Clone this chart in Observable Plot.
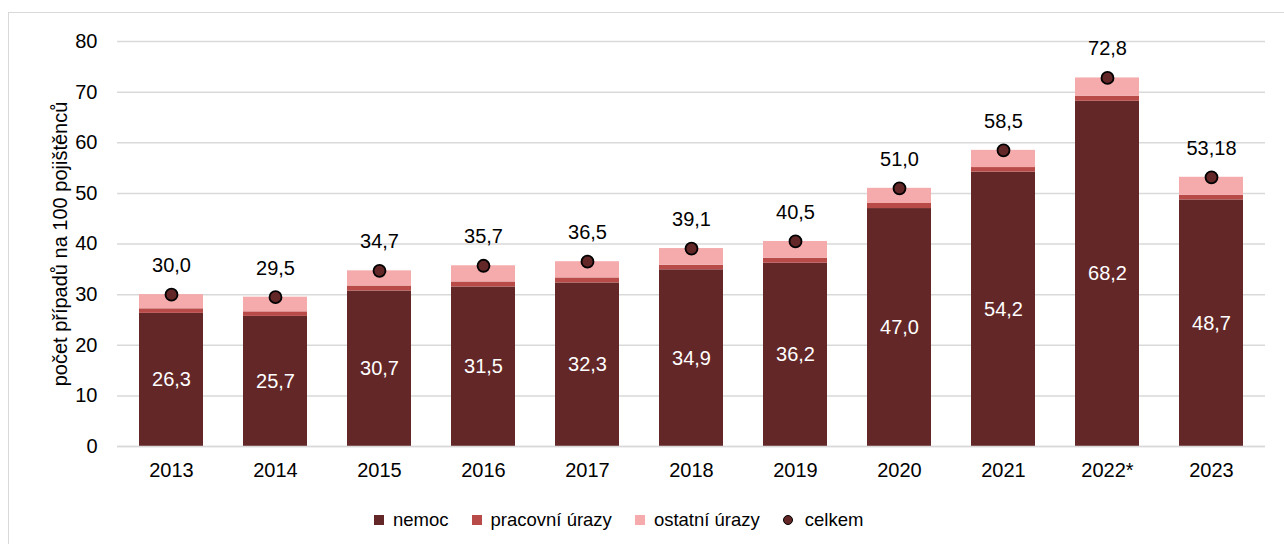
<!DOCTYPE html>
<html>
<head>
<meta charset="utf-8">
<script src="https://cdn.jsdelivr.net/npm/d3@7"></script>
<script src="https://cdn.jsdelivr.net/npm/@observablehq/plot@0.6"></script>
<style>
  body { margin: 0; background: #fff; font-family: "Liberation Sans", Arial, sans-serif; }
  #frame { position: absolute; left: 8px; top: 12px; width: 1300px; height: 560px; border: 1px solid #d9d9d9; box-sizing: border-box; }
  #chart { position: absolute; left: 0; top: 0; }
  #legend { position: absolute; left: 374px; top: 508px; height: 24px; display: flex; align-items: center; font-size: 18.5px; color: #000; white-space: nowrap; }
  .item { display: flex; align-items: center; margin-right: 23px; }
  .sw { width: 10px; height: 10px; margin-right: 9px; }
  .dot { width: 8px; height: 8px; border-radius: 50%; border: 1.5px solid #000; margin-right: 12px; }
</style>
</head>
<body>
<div id="frame"></div>
<div id="chart"></div>
<div id="legend"></div>
<script>
const years = ["2013", "2014", "2015", "2016", "2017", "2018", "2019", "2020", "2021", "2022*", "2023"];
const nemoc = [26.3, 25.7, 30.7, 31.5, 32.3, 34.9, 36.2, 47.0, 54.2, 68.2, 48.7];
const pracovniUrazy = [0.9, 0.9, 1.0, 1.0, 1.0, 0.9, 1.0, 1.0, 0.9, 1.0, 0.9];
const ostatniUrazy = [2.8, 2.9, 3.0, 3.2, 3.2, 3.3, 3.3, 3.0, 3.4, 3.6, 3.58];
const celkem = [30.0, 29.5, 34.7, 35.7, 36.5, 39.1, 40.5, 51.0, 58.5, 72.8, 53.18];
const yTicks = [0, 10, 20, 30, 40, 50, 60, 70, 80];
const seriesNames = ["nemoc", "pracovní úrazy", "ostatní úrazy"];
const seriesColors = ["#632728", "#b84a48", "#f5aaab"];
const dotName = "celkem";
const yLabel = "počet případů na 100 pojištěnců";

const seriesValues = [nemoc, pracovniUrazy, ostatniUrazy];
const stacked = [];
years.forEach((yr, i) => {
  seriesNames.forEach((s, j) => stacked.push({year: yr, series: s, value: seriesValues[j][i]}));
});
const totals = years.map((yr, i) => ({year: yr, value: celkem[i]}));
const nem = years.map((yr, i) => ({year: yr, value: nemoc[i]}));

const fmt = v => {
  const t = v * 10;
  return (Math.abs(t - Math.round(t)) < 1e-6 ? v.toFixed(1) : v.toFixed(2)).replace(".", ",");
};

const font = "Liberation Sans, Arial, sans-serif";

const chart = Plot.plot({
  width: 1284,
  height: 490,
  marginLeft: 117,
  marginRight: 19,
  marginTop: 41,
  marginBottom: 44,
  style: {fontFamily: font, fontSize: "20px", color: "#000", background: "transparent", overflow: "visible"},
  x: {domain: years, paddingInner: 0.387, paddingOuter: 0.194, label: null},
  y: {domain: [0, 80], ticks: yTicks, label: null},
  color: {domain: seriesNames, range: seriesColors},
  marks: [
    Plot.ruleY(yTicks, {stroke: "#d9d9d9", strokeWidth: 1.5}),
    Plot.barY(stacked, {x: "year", y: "value", fill: "series", order: seriesNames}),
    Plot.ruleY([0], {stroke: "#d9d9d9", strokeWidth: 1.5}),
    Plot.text(nem, {x: "year", y: d => d.value / 2, text: d => fmt(d.value), fill: "white", fontSize: 20}),
    Plot.dot(totals, {x: "year", y: "value", r: 6, fill: "#632728", stroke: "#000", strokeWidth: 1.8}),
    Plot.text(totals, {x: "year", y: "value", text: d => fmt(d.value), dy: -29, fill: "#000", fontSize: 20}),
    Plot.axisX({tickSize: 0, tickPadding: 16, fontSize: 20, label: null}),
    Plot.axisY({ticks: yTicks, tickSize: 0, tickPadding: 20, fontSize: 20, label: null}),
    Plot.text([yLabel], {frameAnchor: "left", textAnchor: "middle", lineAnchor: "middle", dx: -57, rotate: -90, fontSize: 20, fill: "#000"})
  ]
});
document.getElementById("chart").appendChild(chart);

const legend = document.getElementById("legend");
seriesNames.forEach((s, j) => {
  const it = document.createElement("div");
  it.className = "item";
  it.innerHTML = `<div class="sw" style="background:${seriesColors[j]}"></div><span>${s}</span>`;
  legend.appendChild(it);
});
const it = document.createElement("div");
it.className = "item";
it.innerHTML = `<div class="dot" style="background:#632728"></div><span>${dotName}</span>`;
legend.appendChild(it);
</script>
</body>
</html>
